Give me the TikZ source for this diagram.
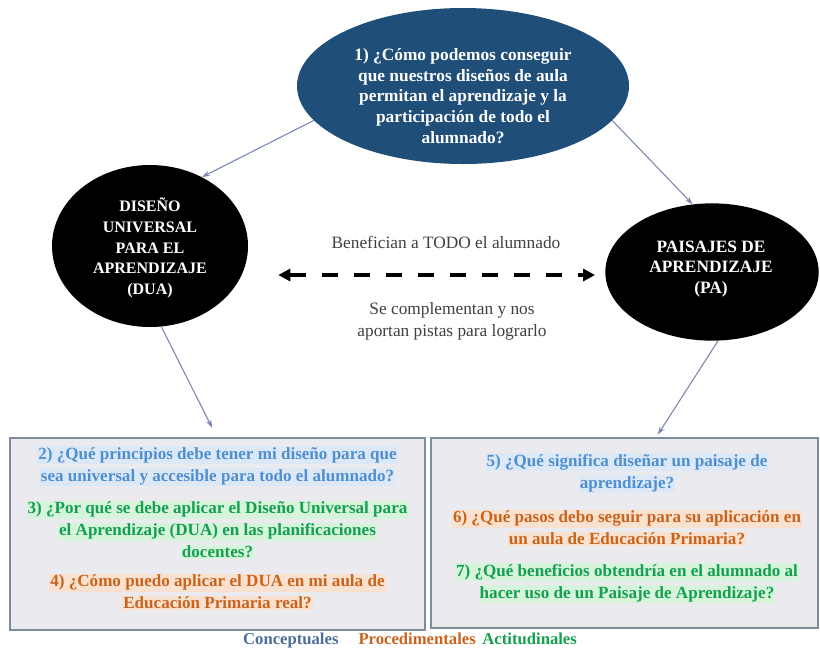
\documentclass[tikz,border=0pt]{standalone}
\usepackage{fontspec}
\setmainfont{Liberation Serif}
\usetikzlibrary{shapes.geometric,arrows.meta,calc}
\definecolor{topblue}{HTML}{1F4E79}
\definecolor{boxfill}{HTML}{EAEAEF}
\definecolor{boxline}{HTML}{7F8C9C}
\definecolor{conn}{HTML}{7986AE}
\definecolor{qblue}{HTML}{4F8FD0}
\definecolor{qgreen}{HTML}{15A050}
\definecolor{qorange}{HTML}{C8641E}
\definecolor{hlblue}{HTML}{DCE8F6}
\definecolor{hlgreen}{HTML}{D6F3DC}
\definecolor{hlorange}{HTML}{F9E1CF}
\definecolor{legblue}{HTML}{4A6F98}
\setlength{\fboxsep}{0.8pt}
\newcommand{\hb}[1]{\colorbox{hlblue}{#1}}
\newcommand{\hg}[1]{\colorbox{hlgreen}{#1}}
\newcommand{\ho}[1]{\colorbox{hlorange}{#1}}
\begin{document}
\begin{tikzpicture}[x=0.75pt,y=-0.75pt,
  bigell/.style={ellipse,inner sep=0pt},
  elltext/.style={align=center,inner sep=0pt,text=white,font=\bfseries\fontsize{#1}{15.5}\selectfont},
  qbox/.style={rectangle,draw=boxline,line width=1.2pt,fill=boxfill,inner sep=0pt},
  qtext/.style={align=center,inner sep=0pt,font=\bfseries\fontsize{12.8}{16.5}\selectfont},
  conarrow/.style={draw=conn,line width=0.8pt,-{Stealth[length=6pt,width=4pt]}},
  midtext/.style={align=center,inner sep=0pt,text=black!75,font=\fontsize{13}{16.5}\selectfont}]
\useasboundingbox (0,0) rectangle (820,651);
\fill[white] (0,0) rectangle (820,651);
% ellipses
\node[bigell,fill=topblue,minimum width=249pt,minimum height=117pt] (top) at (463,86) {};
\node[elltext=13] (toptxt) at (463,96)
  {1) ¿Cómo podemos conseguir\\que nuestros diseños de aula\\permitan el aprendizaje y la\\participación de todo el\\alumnado?};
\node[bigell,fill=black,minimum width=147pt,minimum height=121.5pt] (dua) at (150,246) {};
\node[elltext=12] (duatxt) at (150,248) {DISEÑO\\UNIVERSAL\\PARA EL\\APRENDIZAJE\\(DUA)};
\node[bigell,fill=black,minimum width=160pt,minimum height=103pt] (pa) at (712,272) {};
\node[elltext=13] (patxt) at (711,269) {PAISAJES DE\\APRENDIZAJE\\(PA)};
% boxes
\node[qbox,minimum width=311.25pt,minimum height=144pt] (lbox) at (217.5,534) {};
\node[qbox,minimum width=290.25pt,minimum height=142.5pt] (rbox) at (624.5,533) {};
% box texts
\node[qtext,text=qblue] (p2) at (217.5,466)
  {\hb{2) ¿Qué principios debe tener mi diseño para que}\\\hb{sea universal y accesible para todo el alumnado?}};
\node[qtext,text=qgreen] (p3) at (217.5,530)
  {\hg{3) ¿Por qué se debe aplicar el Diseño Universal para}\\\hg{el Aprendizaje (DUA) en las planificaciones}\\\hg{docentes?}};
\node[qtext,text=qorange] (p4) at (217.5,592)
  {\ho{4) ¿Cómo puedo aplicar el DUA en mi aula de}\\\ho{Educación Primaria real?}};
\node[qtext,text=qblue] (p5) at (627,473)
  {\hb{5) ¿Qué significa diseñar un paisaje de}\\\hb{aprendizaje?}};
\node[qtext,text=qorange] (p6) at (627,528)
  {\ho{6) ¿Qué pasos debo seguir para su aplicación en}\\\ho{un aula de Educación Primaria?}};
\node[qtext,text=qgreen] (p7) at (627,583)
  {\hg{7) ¿Qué beneficios obtendría en el alumnado al}\\\hg{hacer uso de un Paisaje de Aprendizaje?}};
% middle texts
\node[midtext] (ben) at (446,242) {Benefician a TODO el alumnado};
\node[midtext] (comp) at (452,321) {Se complementan y nos\\aportan pistas para lograrlo};
% legend
\node[inner sep=0pt,font=\bfseries\fontsize{12.5}{14}\selectfont] (leg) at (410,640)
  {\textcolor{legblue}{Conceptuales}\hspace{1.2em}\textcolor{qorange}{Procedimentales}\hspace{0.4em}\textcolor{qgreen}{Actitudinales}};
% connectors
\draw[conarrow] (top.193) -- (dua.53);
\draw[conarrow] (top.347) -- (pa.106);
\draw[conarrow] (dua.278) -- ([xshift=-4pt,yshift=7pt]lbox.north);
\draw[conarrow] (pa.275) -- ([xshift=25pt,yshift=2pt]rbox.north);
\draw[line width=3pt,dash pattern=on 12pt off 12pt,{Triangle[length=9pt,width=9pt]}-{Triangle[length=9pt,width=9pt]}]
  ([shift={(22.5pt,-21.75pt)}]dua.east) -- ([shift={(-7.5pt,-2.25pt)}]pa.west);
\end{tikzpicture}
\end{document}
